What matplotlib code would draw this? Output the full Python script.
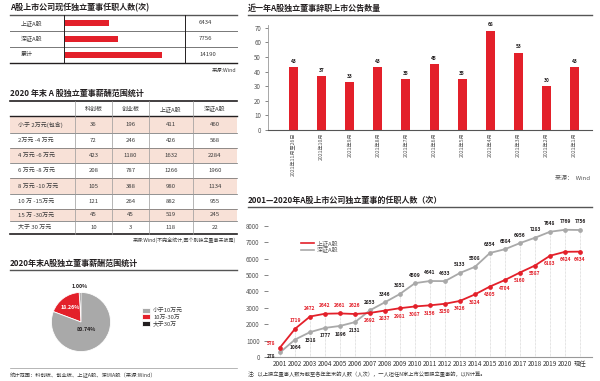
import numpy as np
import matplotlib
matplotlib.use('Agg')
import matplotlib.pyplot as plt
from matplotlib.lines import Line2D

plt.rcParams['font.family'] = ['Noto Sans CJK SC', 'DejaVu Sans']

W, H = 600, 381
RED = '#E3202A'
GREY = '#A9A9A9'
DARK = '#231F20'
PINK = '#F8E1D7'
TXT = '#3A3A3A'

# ---------------------------------------------------------------- data
holder_labels = ['上证A股', '深证A股', '累计']
holder_counts = [6434, 7756, 14190]

pay_columns = ['科创板', '创业板', '上证A股', '深证A股']
pay_ranges = ['小于 2万元(包含)', '2万元 -4 万元', '4 万元 -6 万元', '6 万元 -8 万元',
              '8 万元 -10 万元', '10 万 -15万元', '15 万 -30万元', '大于 30 万元']
pay_kcb = [36, 72, 423, 208, 105, 121, 45, 10]
pay_cyb = [196, 246, 1180, 787, 388, 264, 45, 3]
pay_sh = [411, 426, 1632, 1266, 980, 882, 519, 118]
pay_sz = [460, 568, 2284, 1960, 1134, 955, 245, 22]

pie_labels = ['大于30万', '10万-30万', '小于10万元']
pie_shares = [1.00, 18.26, 80.74]

months = ['2021年11月至26日', '2021年10月', '2021年9月', '2021年8月', '2021年7月', '2021年6月',
          '2021年5月', '2021年4月', '2021年3月', '2021年2月', '2021年1月']
resign_counts = [43, 37, 33, 43, 35, 45, 35, 68, 53, 30, 43]

years = ['2001', '2002', '2003', '2004', '2005', '2006', '2007', '2008', '2009', '2010', '2011',
         '2012', '2013', '2014', '2015', '2016', '2017', '2018', '2019', '2020', '现任']
sh_counts = [578, 1719, 2472, 2642, 2661, 2626, 2692, 2837, 2981, 3087, 3156,
             3250, 3426, 3824, 4305, 4704, 5160, 5587, 6183, 6424, 6434]
sz_counts = [278, 1064, 1518, 1777, 1896, 2131, 2853, 3346, 3851, 4509, 4641,
             4633, 5133, 5508, 6354, 6584, 6956, 7283, 7648, 7769, 7756]

# ---------------------------------------------------------------- figure
fig = plt.figure(figsize=(W / 100, H / 100), dpi=100)


def px_axes(x0, y0, x1, y1):
    """axes placed by pixel box (top-left origin)"""
    return fig.add_axes([x0 / W, 1 - y1 / H, (x1 - x0) / W, (y1 - y0) / H])


bg = fig.add_axes([0, 0, 1, 1])
bg.set_xlim(0, W)
bg.set_ylim(H, 0)
bg.axis('off')


def title(x, y, s, x1):
    bg.text(x, y, s, fontsize=5.8, weight='bold', color=DARK, va='center')
    bg.plot([x, x1], [y + 6.5, y + 6.5], color='#555555', lw=1.0)


# ---------------------------------------------------------------- top-left table
title(10, 8, 'A股上市公司现任独立董事任职人数(次)', 237)
for y in [31, 47]:
    bg.plot([10, 237], [y, y], color='#777777', lw=0.7)
bg.plot([10, 237], [63, 63], color=DARK, lw=1.0)
for x in [64, 185]:
    bg.plot([x, x], [15, 63], color=DARK, lw=0.7)
for i, (lab, val) in enumerate(zip(holder_labels, holder_counts)):
    yc = 23 + 16 * i
    bg.text(21, yc, lab, fontsize=4.3, color=TXT, va='center')
    bg.text(199, yc, str(val), fontsize=4.3, color=TXT, va='center')
bg.text(236, 71, '来源:Wind', fontsize=3.8, color=TXT, ha='right', va='center')

axh = px_axes(65, 15, 185, 63)
axh.barh(range(len(holder_counts)), holder_counts, height=0.32, color=RED)
axh.set_ylim(2.5, -0.5)
axh.set_xlim(0, 17600)
axh.axis('off')

# ---------------------------------------------------------------- salary table
bg.text(10, 93, '2020 年末 A 股独立董事薪酬范围统计', fontsize=5.8, weight='bold', color=DARK, va='center')
bg.plot([10, 237], [101, 101], color=DARK, lw=1.2)
col_edges = [10, 75, 112, 149, 193, 237]
row_edges = [116, 133, 148, 163, 178, 194, 209, 221, 234]
for j, c in enumerate(pay_columns):
    bg.text((col_edges[j + 1] + col_edges[j + 2]) / 2, 109, c, fontsize=4.3, color=TXT,
            ha='center', va='center')
cols = [pay_kcb, pay_cyb, pay_sh, pay_sz]
for i, lab in enumerate(pay_ranges):
    y0, y1 = row_edges[i], row_edges[i + 1]
    if i % 2 == 0:
        bg.fill_between([10, 237], y0, y1, color=PINK, lw=0)
    yc = (y0 + y1) / 2
    bg.text(18, yc, lab, fontsize=4.3, color=TXT, va='center')
    for j, col in enumerate(cols):
        bg.text((col_edges[j + 1] + col_edges[j + 2]) / 2, yc, str(col[i]), fontsize=4.3,
                color=TXT, ha='center', va='center')
for y in row_edges[1:-1]:
    bg.plot([10, 237], [y, y], color='#666666', lw=0.5)
bg.plot([10, 237], [116, 116], color=DARK, lw=1.0)
bg.plot([10, 237], [234, 234], color=DARK, lw=1.2)
for x in col_edges[1:-1]:
    bg.plot([x, x], [101, 234], color='#999999', lw=0.5)
bg.text(236, 240, '来源:Wind(不完全统计,因个别独立董事未披露)', fontsize=3.6, color=TXT,
        ha='right', va='center')

# ---------------------------------------------------------------- pie
title(10, 263, '2020年末A股独立董事薪酬范围统计', 237)
axp = px_axes(44, 285, 118, 359)
wedges, _ = axp.pie(pie_shares, colors=[DARK, RED, GREY], startangle=90, counterclock=True,
                    wedgeprops=dict(linewidth=0.6, edgecolor='white'))
axp.set_aspect('equal')
for w, share, r, col in zip(wedges, pie_shares, [1.2, 0.62, 0.3], [DARK, 'white', DARK]):
    mid = np.deg2rad((w.theta1 + w.theta2) / 2)
    axp.text(r * np.cos(mid), r * np.sin(mid), '%.2f%%' % share, fontsize=3.8, weight='bold',
             color=col, ha='center', va='center')
axp.legend(handles=[wedges[2], wedges[1], wedges[0]],
           labels=[pie_labels[2], pie_labels[1], pie_labels[0]],
           loc='upper left', bbox_to_anchor=(139 / W, 1 - 305 / H), bbox_transform=fig.transFigure,
           frameon=False, fontsize=4.2, handlelength=1.3, handleheight=0.9, labelspacing=0.15,
           borderpad=0, handletextpad=0.6, labelcolor=TXT)
bg.plot([10, 237], [368, 368], color='#999999', lw=0.5)
bg.text(10, 375, '统计范围：科创板、创业板、上证A股、深圳A股（来源:Wind）', fontsize=3.8, color=TXT,
        va='center')

# ---------------------------------------------------------------- resignation bars
title(248, 8, '近一年A股独立董事辞职上市公告数量', 592)
axb = px_axes(268, 24.8, 592, 130)
xb = np.arange(len(months))
axb.bar(xb, resign_counts, width=0.32, color=RED)
for xi, v in zip(xb, resign_counts):
    axb.text(xi, v + 2.2, str(v), ha='center', va='bottom', fontsize=3.5, weight='bold', color=DARK)
axb.set_xlim(-0.91, len(months) - 1 + 0.62)
axb.set_ylim(0, 72)
axb.set_yticks(range(0, 71, 10))
axb.set_xticks(xb)
axb.set_xticklabels(months, rotation=90, fontsize=3.7, color='#555555')
axb.tick_params(axis='x', length=0, pad=2)
axb.tick_params(axis='y', length=2, width=0.5, labelsize=4.5, colors='#555555', pad=3)
axb.spines['top'].set_visible(False)
axb.spines['right'].set_visible(False)
axb.spines['left'].set_color('#999999')
axb.spines['left'].set_linewidth(0.6)
axb.spines['bottom'].set_color('#555555')
axb.spines['bottom'].set_linewidth(0.8)
axb.patch.set_alpha(0)
bg.text(590, 178, '来源：  Wind', fontsize=4.3, color='#555555', ha='right', va='center')

# ---------------------------------------------------------------- line chart
title(248, 200, '2001—2020年A股上市公司独立董事的任职人数（次）', 592)
axl = px_axes(268, 210, 592, 357)
xl = np.arange(len(years))
axl.vlines(xl, 0, np.maximum(sh_counts, sz_counts), color='#C8C8C8', lw=0.5, linestyles=(0, (1, 1)))
axl.plot(xl, sz_counts, color=GREY, lw=1.3, marker='o', ms=2.4, zorder=3)
axl.plot(xl, sh_counts, color=RED, lw=1.3, marker='o', ms=2.4, zorder=4)
for i in xl:
    if i == 0:
        offs_sh, offs_sz, ha = (-3, 1), (-3, -1), 'right'
    elif i < 6:
        offs_sh, offs_sz, ha = (0, 4), (0, -4), 'center'
    else:
        offs_sh, offs_sz, ha = (0, -4), (0, 4), 'center'
    axl.annotate(str(sh_counts[i]), (i, sh_counts[i]), xytext=offs_sh, textcoords='offset points',
                 ha=ha, va='top' if offs_sh[1] < 0 else 'bottom', fontsize=3.5, weight='bold',
                 color=RED, zorder=5)
    axl.annotate(str(sz_counts[i]), (i, sz_counts[i]), xytext=offs_sz, textcoords='offset points',
                 ha=ha, va='top' if offs_sz[1] < 0 else 'bottom', fontsize=3.5, weight='bold',
                 color=DARK, zorder=5)
axl.set_xlim(-0.8, len(years) - 1 + 0.8)
axl.set_ylim(0, 8977)
axl.set_yticks(range(0, 8001, 1000))
axl.set_xticks(xl)
axl.set_xticklabels(years, fontsize=4.6, color='#333333')
axl.tick_params(axis='x', length=0, pad=2.5)
axl.tick_params(axis='y', length=3, width=0.5, labelsize=4.5, colors='#555555', pad=3)
for s in ['top', 'right', 'left']:
    axl.spines[s].set_visible(False)
axl.spines['bottom'].set_color('#999999')
axl.spines['bottom'].set_linewidth(0.8)
axl.patch.set_alpha(0)
axl.legend(handles=[Line2D([], [], color=RED, lw=1.2, label='上证A股'),
                    Line2D([], [], color=GREY, lw=1.2, label='深证A股')],
           loc='upper left', bbox_to_anchor=(298 / W, 1 - 237 / H), bbox_transform=fig.transFigure,
           frameon=False, fontsize=4.3, handlelength=2.2, labelspacing=0.2, borderpad=0,
           handletextpad=0.5, labelcolor='#555555')
bg.text(248, 374, '注：以上独立董事人数为截至各年年末的人数（人次），一人担任N家上市公司独立董事的，以N计算。',
        fontsize=3.8, color=TXT, va='center')

fig.savefig('out.png', dpi=100)
